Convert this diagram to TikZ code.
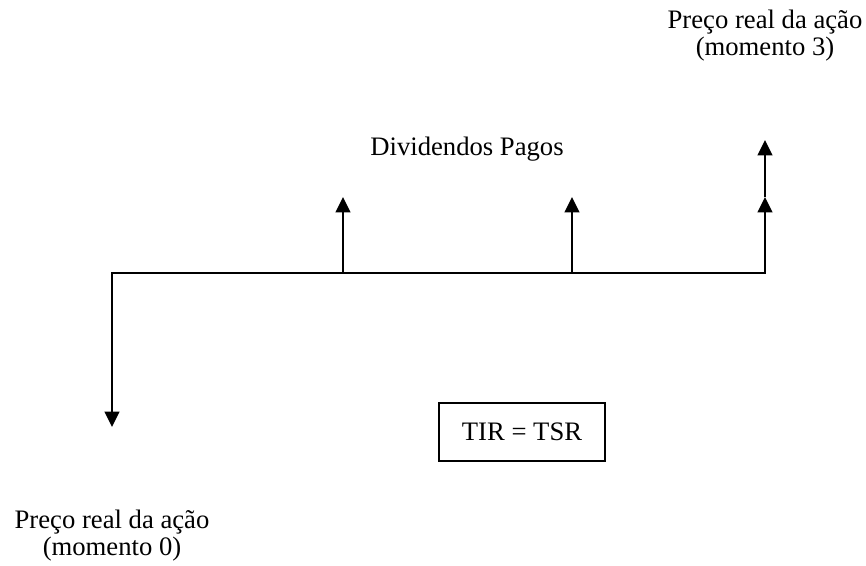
\documentclass[tikz,border=0pt]{standalone}
\usepackage{fontspec}
\setmainfont{Liberation Serif}
\usetikzlibrary{arrows.meta}

\begin{document}
\begin{tikzpicture}[x=0.75pt,y=0.75pt,yscale=-1,xscale=1,
    fluxo/.style={line width=1.5pt},
    seta/.style={fluxo,-{Triangle[length=11.5pt,width=11pt]}},
    rotulo/.style={inner sep=0pt,font=\fontsize{20}{20.25}\selectfont,align=center},
    caixa/.style={draw,line width=1.5pt,minimum width=125pt,minimum height=43.5pt,font=\fontsize{20}{20.25}\selectfont}]
        \useasboundingbox (0,0) rectangle (866,565);

        \coordinate (p0) at (112,273);
        \coordinate (p1) at (343,273);
        \coordinate (p2) at (572,273);
        \coordinate (p3) at (765,273);
        \coordinate (s0) at (112,427);
        \coordinate (s1) at (343,197);
        \coordinate (s2) at (572,197);
        \coordinate (s3) at (765,197);
        \coordinate (s4) at (765,140);

        \draw [seta] (p3) -- (p0) -- (s0) ;
        \draw [seta] (p0) -- (p3) -- (s3) ;
        \draw [seta] (s3) -- (s4) ;
        \draw [seta] (p1) -- (s1) ;
        \draw [seta] (p2) -- (s2) ;

        \node [rotulo, anchor=north] (preco3) at (765,10) {Preço real da ação\\(momento 3)};
        \node [rotulo, anchor=base] (divid) at (467,155) {Dividendos Pagos};
        \node [caixa] (tir) at (522,432) {TIR = TSR};
        \node [rotulo, anchor=north] (preco0) at (112,510) {Preço real da ação\\(momento 0)};

    \end{tikzpicture}
\end{document}
